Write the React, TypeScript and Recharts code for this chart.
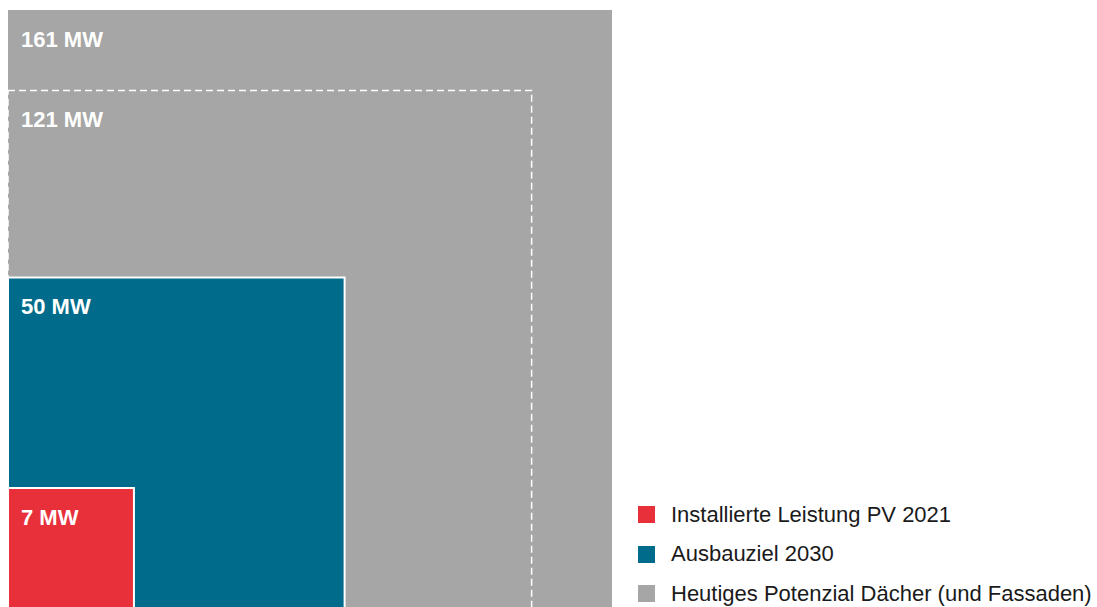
// Nested PV squares: area ~ MW, anchored bottom-left
import React from "react";
import { ComposedChart, XAxis, YAxis, ReferenceArea, Legend } from "recharts";

const categories = [
  "Installierte Leistung PV 2021",
  "Ausbauziel 2030",
  "Heutiges Potenzial Dächer (und Fassaden)",
];
const values = [7, 50, 161]; // MW
const colors = ["#E8303A", "#006B8A", "#A6A6A6"];
const outlineValue = 121; // dashed square, no legend entry

const W = 1097;
const H = 614;
const MARGIN = { top: 10, right: 0, bottom: 0, left: 8 };
const FONT = '"Liberation Sans", Arial, sans-serif';

const maxSide = Math.sqrt(Math.max(...values));
const pxPerUnit = (H - MARGIN.top - MARGIN.bottom) / maxSide;
const xMax = (W - MARGIN.left - MARGIN.right) / pxPerUnit;

const SquareLabel = (props: any) => {
  const { viewBox, text } = props;
  if (!viewBox) return null;
  return (
    <text
      x={viewBox.x + 13}
      y={viewBox.y + 37}
      fill="#ffffff"
      fontFamily={FONT}
      fontWeight="bold"
      fontSize={22}
    >
      {text}
    </text>
  );
};

const LegendBox = () => (
  <div style={{ fontFamily: FONT, fontSize: 22, color: "#1a1a1a" }}>
    {categories.map((c, i) => (
      <div key={c} style={{ display: "flex", alignItems: "center", height: 39.5 }}>
        <span
          style={{ width: 17, height: 17, background: colors[i], marginRight: 16, flex: "none" }}
        />
        <span style={{ whiteSpace: "nowrap" }}>{c}</span>
      </div>
    ))}
  </div>
);

export default function App() {
  const order = [2, 1, 0];
  return (
    <div style={{ position: "absolute", left: 0, top: 0, width: W, height: 607, overflow: "hidden" }}>
      <ComposedChart width={W} height={H} data={[]} margin={MARGIN}>
        <XAxis type="number" dataKey="x" domain={[0, xMax]} hide allowDataOverflow />
        <YAxis type="number" dataKey="y" domain={[0, maxSide]} hide allowDataOverflow />
        <ReferenceArea
          x1={0}
          x2={Math.sqrt(values[2])}
          y1={0}
          y2={Math.sqrt(values[2])}
          fill={colors[2]}
          fillOpacity={1}
          strokeWidth={0}
          ifOverflow="visible"
          label={<SquareLabel text={`${values[2]} MW`} />}
        />
        <ReferenceArea
          x1={0}
          x2={Math.sqrt(outlineValue)}
          y1={0}
          y2={Math.sqrt(outlineValue)}
          fill="none"
          fillOpacity={0}
          stroke="#ffffff"
          strokeWidth={1.5}
          strokeDasharray="7 4"
          ifOverflow="visible"
          label={<SquareLabel text={`${outlineValue} MW`} />}
        />
        {order.slice(1).map((i) => (
          <ReferenceArea
            key={categories[i]}
            x1={0}
            x2={Math.sqrt(values[i])}
            y1={0}
            y2={Math.sqrt(values[i])}
            fill={colors[i]}
            fillOpacity={1}
            stroke="#ffffff"
            strokeWidth={2}
            ifOverflow="visible"
            label={<SquareLabel text={`${values[i]} MW`} />}
          />
        ))}
        <Legend
          layout="horizontal"
          verticalAlign="middle"
          align="center"
          content={<LegendBox />}
          wrapperStyle={{ left: 638, top: 495, width: 459 }}
        />
      </ComposedChart>
    </div>
  );
}
